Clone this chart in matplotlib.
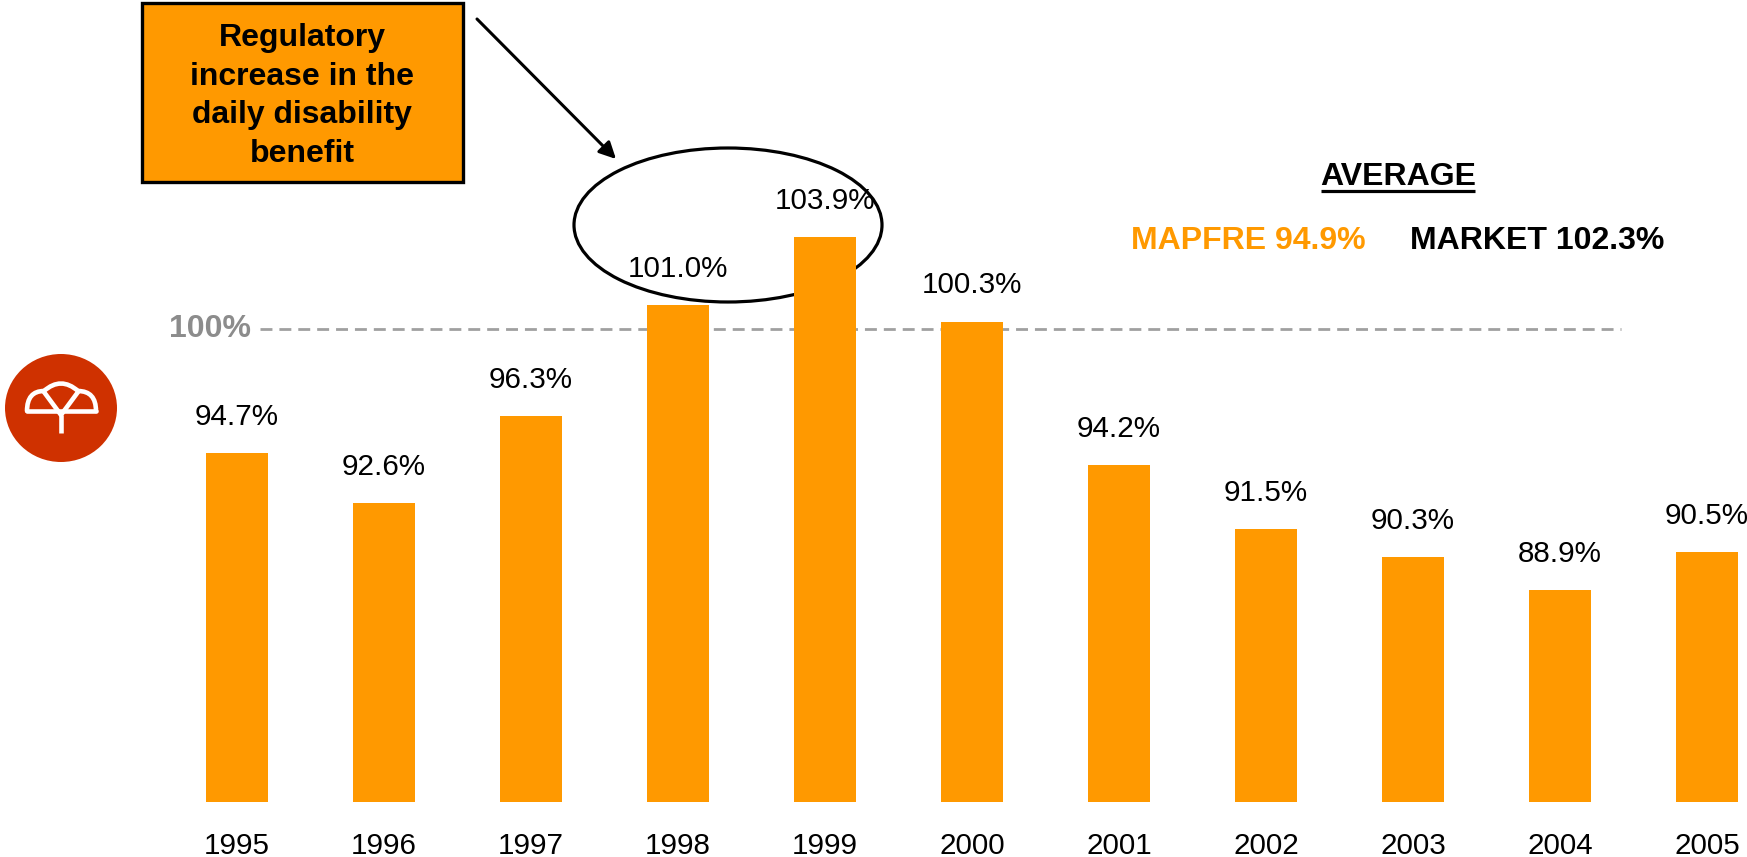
import matplotlib
matplotlib.use("Agg")
import matplotlib.pyplot as plt
from matplotlib.patches import Rectangle, Ellipse, PathPatch
from matplotlib.path import Path
import numpy as np

plt.rcParams['font.family'] = ['Liberation Sans', 'DejaVu Sans']

# ---- data ----
years = ["1995", "1996", "1997", "1998", "1999", "2000", "2001", "2002", "2003", "2004", "2005"]
ratios = [94.7, 92.6, 96.3, 101.0, 103.9, 100.3, 94.2, 91.5, 90.3, 88.9, 90.5]
reference_level = 100.0
avg_title = "AVERAGE"
avg_mapfre = "MAPFRE 94.9%"
avg_market = "MARKET 102.3%"
note_text = "Regulatory\nincrease in the\ndaily disability\nbenefit"

ORANGE = "#FF9900"
GREY = "#A0A0A0"
LOGO_RED = "#CF3100"
FS = 21.3     # regular labels
FSB = 23      # bold texts

W, H = 1747, 857
fig = plt.figure(figsize=(W / 100, H / 100), dpi=100)

# overlay axes in pixel coordinates (drawn first, underneath)
ov = fig.add_axes([0, 0, 1, 1])
ov.set_xlim(0, W)
ov.set_ylim(H, 0)
ov.axis("off")

# data axes
base_px = 802
ax = fig.add_axes([0, (H - base_px) / H, 1, base_px / H])
ax.patch.set_alpha(0)
px_per_unit = 23.55
y_base = 79.9
ax.set_ylim(y_base, y_base + base_px / px_per_unit)
x0_px, step_px = 237, 147
ax.set_xlim(-x0_px / step_px, (W - x0_px) / step_px)
for s in ax.spines.values():
    s.set_visible(False)
ax.set_yticks([])

x = np.arange(len(years))
ax.bar(x, ratios, width=0.42, color=ORANGE, zorder=2)
for xi, v in zip(x, ratios):
    ax.annotate(f"{v:.1f}%", (xi, v), xytext=(0, 26), textcoords="offset points",
                ha="center", va="center", fontsize=FS, color="black", zorder=3)

ax.set_xticks(x)
ax.set_xticklabels(years, fontsize=FS, va="center")
ax.tick_params(axis="x", length=0, pad=31.6)

# 100% reference line
ax.axhline(reference_level, xmin=260 / W, xmax=1621 / W, color=GREY, lw=2.0,
           dashes=(4.3, 2.5), zorder=1)
ax.text(251 / W, reference_level, "100%", transform=ax.get_yaxis_transform(),
        ha="right", va="center", fontsize=FSB, fontweight="bold", color="#8C8C8C")

# annotation box
ov.add_patch(Rectangle((142, 3), 321, 179, facecolor=ORANGE, edgecolor="black", lw=2.4))
ov.text(302, 96, note_text, ha="center", va="center", fontsize=FSB,
        fontweight="bold", linespacing=1.38)

# arrow
ov.annotate("", xy=(616, 159), xytext=(477, 19),
            arrowprops=dict(arrowstyle="-|>", color="black", lw=2.2, mutation_scale=25,
                            shrinkA=0, shrinkB=0))
# ellipse
ov.add_patch(Ellipse((728, 225), 308, 154, fill=False, edgecolor="black", lw=2.3))

# average block
t = ov.text(1398, 177, avg_title, ha="center", va="center", fontsize=FSB, fontweight="bold")
ov.text(1131, 241, avg_mapfre, ha="left", va="center", fontsize=FSB, fontweight="bold", color=ORANGE)
ov.text(1410, 241, avg_market, ha="left", va="center", fontsize=FSB, fontweight="bold", color="black")
fig.canvas.draw()
bb = t.get_window_extent().transformed(ov.transData.inverted())
ov.plot([min(bb.x0, bb.x1) + 1, max(bb.x0, bb.x1) - 1], [191, 191], color="black", lw=2.3,
        solid_capstyle="butt")

# logo
ov.add_patch(Ellipse((61, 408), 112, 108, facecolor=LOGO_RED, edgecolor="none"))
lw_logo = 3.3
verts = [(27, 411), (27, 391), (44, 391),
         (61, 376), (78, 391),
         (96, 391), (96, 411)]
codes = [Path.MOVETO, Path.CURVE3, Path.CURVE3, Path.CURVE3, Path.CURVE3, Path.CURVE3, Path.CURVE3]
ov.add_patch(PathPatch(Path(verts, codes), fill=False, edgecolor="white", lw=lw_logo,
                       capstyle="round", joinstyle="round"))
ov.plot([27, 96], [411, 411], color="white", lw=lw_logo, solid_capstyle="round")
ov.plot([44, 61, 78], [392, 415, 392], color="white", lw=lw_logo, solid_joinstyle="round")
ov.plot([61, 61], [415, 433], color="white", lw=lw_logo, solid_capstyle="butt")

fig.savefig("out.png", dpi=100)
